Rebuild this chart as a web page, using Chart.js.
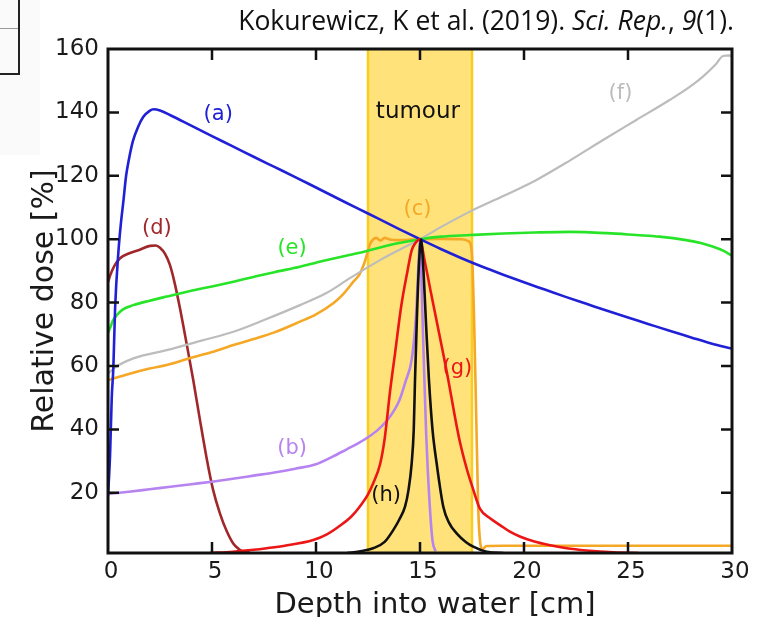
<!DOCTYPE html>
<html>
<head>
<meta charset="utf-8">
<script src="https://cdn.jsdelivr.net/npm/chart.js@4.4.1/dist/chart.umd.min.js"></script>
<style>
  body { margin: 0; background: #fff; }
  #wrap { position: relative; width: 758px; height: 617px; overflow: hidden; }
  #holder { position: absolute; left: 0; top: 0; width: 758px; height: 617px; }
  #cite { position: absolute; right: 24px; top: 2px; font-family: "Open Sans", Lato, sans-serif; font-size: 26.5px; color: #111; white-space: nowrap; }
  .scrap { position: absolute; }
</style>
</head>
<body>
<div id="wrap">
  <div class="scrap" style="left:0;top:0;width:40px;height:155px;background:#fafafa"></div>
  <div class="scrap" style="left:0;top:0;width:18px;height:73px;border-right:2px solid #222;border-bottom:2px solid #222"></div>
  <div class="scrap" style="left:0;top:28px;width:18px;height:1px;background:#999"></div>
  <div id="holder"><canvas id="dose"></canvas></div>
  <div id="cite">Kokurewicz, K et al. (2019). <i>Sci. Rep.</i>, <i>9</i>(1).</div>
</div>
<script>
// depth [cm] / relative dose [%], one pair per curve
const depthA = [0, 0.05, 0.1, 0.18, 0.26, 0.34, 0.5, 0.62, 0.74, 0.87, 1.0, 1.2, 1.45, 1.7, 2.0, 2.2, 2.5, 3.0, 4, 5, 6, 7, 8, 9, 10, 11, 12, 13, 14, 15, 16, 17, 18, 19, 20, 21, 22, 23, 24, 25, 26, 27, 28, 29, 30];
const doseA = [19, 25, 32, 50, 60, 78, 96, 105, 112, 120, 125, 131, 135.5, 138.6, 140.5, 141, 140.6, 139.1, 135.8, 132.5, 129.3, 126, 122.8, 119.6, 116.3, 113, 109.7, 106.5, 103.2, 100, 96.9, 94, 91.3, 88.8, 86.4, 84.1, 81.8, 79.6, 77.4, 75.3, 73.2, 71.1, 69.1, 67.1, 65.5];

const depthB = [0, 1, 2, 3, 4, 5, 6, 7, 8, 9, 10, 10.8, 11.5, 12, 12.5, 13, 13.5, 14, 14.3, 14.6, 14.8, 14.95, 15, 15.1, 15.2, 15.3, 15.45, 15.6, 15.75];
const doseB = [19.6, 20.3, 21.1, 21.9, 22.7, 23.5, 24.4, 25.4, 26.4, 27.6, 29, 31.4, 33.8, 35.5, 37.5, 40, 43.5, 49, 55, 62, 75, 95, 100, 80, 58, 38, 18, 5, 1.5];

const depthC = [0, 1, 2, 2.82, 4, 5, 6.03, 7, 8, 9.23, 10, 10.83, 11.3, 11.8, 12.1, 12.3, 12.44, 12.6, 12.76, 12.9, 13.1, 13.3, 13.6, 14, 15, 16, 17, 17.35, 17.5, 17.6, 17.7, 17.8, 17.9, 18.0, 18.2, 19, 22, 26, 30];
const doseC = [55.5, 57.5, 59.2, 60.3, 62.6, 64.4, 66.6, 68.5, 70.6, 74, 76.3, 79.8, 82.6, 86.6, 89, 92, 95, 98.5, 100, 100.4, 99.6, 100.4, 99.8, 99.7, 100, 100.1, 100, 99.3, 95, 75, 45, 15, 4, 2.2, 3.2, 3.3, 3.3, 3.3, 3.3];

const depthD = [0, 0.1, 0.3, 0.58, 1.0, 1.5, 2.02, 2.3, 2.5, 2.75, 2.98, 3.2, 3.46, 3.78, 4.1, 4.42, 4.74, 5.05, 5.38, 5.7, 6.02, 6.3, 6.5, 6.8];
const doseD = [86.5, 88.5, 91.5, 94, 95.5, 96.6, 97.9, 98, 97.3, 95.3, 91.8, 86.3, 78.2, 67, 55.5, 43, 31, 21, 13.5, 8, 4, 2.2, 1.5, 1.2];

const depthE = [0, 0.1, 0.25, 0.42, 0.7, 1.22, 2, 2.82, 4, 5, 6.03, 7, 8, 9.23, 10, 10.8, 11.6, 12.44, 13.08, 14, 15, 16, 17.4, 19, 20.5, 22.2, 24, 25.4, 26.5, 27.8, 28.5, 29.1, 29.6, 30];
const doseE = [70.5, 72, 74.5, 76, 77.8, 79.2, 80.6, 81.9, 83.7, 85.1, 86.6, 88.1, 89.6, 91.3, 92.6, 93.8, 95, 96.3, 97.4, 98.8, 100, 100.8, 101.3, 101.8, 102.1, 102.3, 101.9, 101.3, 100.8, 99.7, 98.8, 97.6, 96.3, 94.8];

const depthF = [0, 0.26, 1.22, 2.82, 4.5, 6.03, 7.5, 9.23, 10.5, 11.63, 13.08, 14, 15, 16, 17.4, 19, 20.6, 22.2, 23.8, 25.4, 27, 28, 28.6, 29.2, 29.57, 29.9, 30];
const doseF = [57.5, 59.2, 62.4, 65, 68, 70.8, 74.5, 79.2, 83, 87.7, 93.4, 96.6, 100, 103.8, 108.7, 113.6, 118.7, 124.8, 131.3, 137.6, 143.9, 148.2, 151.3, 155, 157.8, 158, 157.3];

const depthG = [4.9, 6, 7, 7.63, 8.5, 9.87, 10.5, 11.15, 11.7, 12.1, 12.5, 12.75, 13.08, 13.3, 13.56, 13.8, 14.1, 14.4, 14.6, 14.8, 15, 15.2, 15.5, 15.96, 16.35, 16.65, 16.92, 17.25, 17.56, 17.88, 18.4, 18.85, 19.3, 19.8, 20.5, 21.2, 22.05, 23, 24.3, 25.5];
const doseG = [1, 1.4, 2, 2.5, 3.3, 5.1, 6.8, 9.6, 12.5, 15.6, 19.5, 23, 29, 37, 52, 64, 79, 90, 96.5, 99, 100, 94, 84, 69, 56, 45, 36, 27.5, 21, 15, 11.8, 9.8, 7.8, 6.2, 4.6, 3.5, 2.5, 1.8, 1.2, 1];

const depthH = [11.5, 12.2, 12.75, 13.3, 13.72, 14.0, 14.28, 14.45, 14.6, 14.7, 14.76, 14.85, 14.95, 15.05, 15.15, 15.3, 15.43, 15.6, 15.8, 16.12, 16.4, 16.76, 17.2, 17.56, 18.2, 19];
const doseH = [1, 1.6, 2.5, 4.5, 8.3, 11.5, 15.6, 21, 29.3, 40, 55.6, 75, 92, 100, 92, 72, 55.6, 40, 29.3, 15.6, 10.5, 7.2, 4.5, 3, 1.4, 1];

const curveNames = ["(a)", "(b)", "(c)", "(d)", "(e)", "(f)", "(g)", "(h)"];
const tagDepth = [5.3, 8.85, 14.88, 2.35, 8.85, 24.64, 16.8, 13.37];
const tagDose = [139.2, 34.1, 109.5, 103.2, 96.9, 146.1, 59.2, 19];

const tumourFrom = 12.5;
const tumourTo = 17.5;
const xTicks = [0, 5, 10, 15, 20, 25, 30];
const yTicks = [20, 40, 60, 80, 100, 120, 140, 160];

const colours = ["rgb(32,32,214)", "rgb(182,132,240)", "rgb(245,168,38)", "rgb(160,40,42)",
                 "rgb(40,228,40)", "rgb(188,188,188)", "rgb(236,22,22)", "#111"];
const drawOrder = [3, 2, 6, 7, 4, 5, 1, 0];

function pairs(xs, ys) {
    return xs.map((x, i) => ({ x: x, y: ys[i] }));
}

const series = [
    pairs(depthA, doseA), pairs(depthB, doseB), pairs(depthC, doseC), pairs(depthD, doseD),
    pairs(depthE, doseE), pairs(depthF, doseF), pairs(depthG, doseG), pairs(depthH, doseH)
];

const tumourBand = {
    id: "tumourBand",
    beforeDatasetsDraw(chart) {
        const { ctx, chartArea: a, scales: { x } } = chart;
        const x0 = x.getPixelForValue(tumourFrom);
        const x1 = x.getPixelForValue(tumourTo);
        ctx.save();
        ctx.fillStyle = "rgb(255,227,122)";
        ctx.fillRect(x0, a.top, x1 - x0, a.bottom - a.top);
        ctx.strokeStyle = "rgb(250,204,30)";
        ctx.lineWidth = 2.5;
        ctx.beginPath();
        ctx.moveTo(x0, a.top); ctx.lineTo(x0, a.bottom);
        ctx.moveTo(x1, a.top); ctx.lineTo(x1, a.bottom);
        ctx.stroke();
        ctx.restore();
    }
};

const frameAndTags = {
    id: "frameAndTags",
    afterDatasetsDraw(chart) {
        const { ctx, chartArea: a, scales: { x, y } } = chart;
        ctx.save();
        ctx.strokeStyle = "#111";
        ctx.lineWidth = 2.5;
        ctx.beginPath();
        xTicks.slice(1, -1).forEach(v => {
            const px = x.getPixelForValue(v);
            ctx.moveTo(px, a.bottom); ctx.lineTo(px, a.bottom - 11);
            ctx.moveTo(px, a.top); ctx.lineTo(px, a.top + 11);
        });
        yTicks.slice(0, -1).forEach(v => {
            const py = y.getPixelForValue(v);
            ctx.moveTo(a.left, py); ctx.lineTo(a.left + 11, py);
            ctx.moveTo(a.right, py); ctx.lineTo(a.right - 11, py);
        });
        ctx.stroke();
        ctx.lineWidth = 3;
        ctx.strokeRect(a.left, a.top, a.right - a.left, a.bottom - a.top);

        ctx.textAlign = "center";
        ctx.textBaseline = "middle";
        ctx.font = '21px "DejaVu Sans"';
        curveNames.forEach((t, i) => {
            ctx.fillStyle = colours[i];
            ctx.fillText(t, x.getPixelForValue(tagDepth[i]), y.getPixelForValue(tagDose[i]));
        });
        ctx.fillStyle = "#111";
        ctx.font = '23px "DejaVu Sans"';
        ctx.fillText("tumour", x.getPixelForValue((tumourFrom + tumourTo) / 2 - 0.1), y.getPixelForValue(140));

        // x-axis title, sits a little right of the axis centre in the figure
        ctx.fillStyle = "#1a1a1a";
        ctx.font = '29px "DejaVu Sans"';
        ctx.textBaseline = "alphabetic";
        ctx.fillText("Depth into water [cm]", (a.left + a.right) / 2 + 15, 613);
        ctx.restore();
    }
};

const axisFont = { family: "DejaVu Sans", size: 23 };
const titleFont = { family: "DejaVu Sans", size: 30 };

new Chart(document.getElementById("dose"), {
    type: "line",
    data: {
        datasets: series.map((pts, i) => ({
            label: curveNames[i],
            data: pts,
            borderColor: colours[i],
            borderWidth: i === 5 ? 2.2 : 2.6,
            pointRadius: 0,
            cubicInterpolationMode: "monotone",
            fill: false,
            order: drawOrder[i]
        }))
    },
    options: {
        responsive: true,
        maintainAspectRatio: false,
        animation: false,
        layout: { padding: { left: 27, right: 26, top: 49, bottom: 0 } },
        plugins: { legend: { display: false }, tooltip: { enabled: false } },
        scales: {
            x: {
                type: "linear",
                min: 0,
                max: 30,
                afterBuildTicks: s => { s.ticks = xTicks.map(v => ({ value: v })); },
                afterFit: s => { s.height = 64; },
                grid: { display: false, drawTicks: false },
                border: { display: false },
                ticks: { font: axisFont, color: "#1a1a1a", padding: 5, maxRotation: 0, labelOffset: 3 },
                title: { display: false }
            },
            y: {
                type: "linear",
                min: 1,
                max: 160,
                afterBuildTicks: s => { s.ticks = yTicks.map(v => ({ value: v })); },
                afterFit: s => { s.width = 81; },
                grid: { display: false, drawTicks: false },
                border: { display: false },
                ticks: { font: axisFont, color: "#1a1a1a", padding: 9 },
                title: { display: true, text: "Relative dose [%]", font: titleFont, color: "#1a1a1a", padding: { top: 0, bottom: 0 } }
            }
        }
    },
    plugins: [tumourBand, frameAndTags]
});
</script>
</body>
</html>
